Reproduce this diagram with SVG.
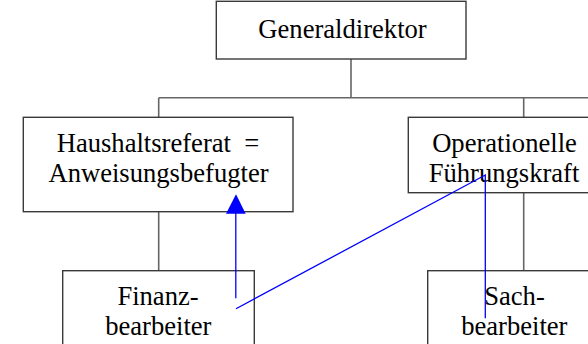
<svg xmlns="http://www.w3.org/2000/svg" width="588" height="344" viewBox="0 0 588 344">
<style>
.box{fill:#fff;stroke:#3a3a3a;stroke-width:1.4}
.t{font-family:"Liberation Serif","Times New Roman",serif;font-size:26.6px;fill:#000;text-anchor:middle}
.c{fill:none;stroke:#666;stroke-width:1.6}
.b{fill:none;stroke:#0000ff;stroke-width:1.3}
</style>
<rect width="588" height="344" fill="#fff"/>
<g id="connectors">
<path class="c" d="M351 59V97.7M158.7 97.7H588M158.7 97.7V117.3M523.7 97.7V117.3M158.7 211.7V270.7M523.7 192.7V270.7"/>
</g>
<g id="generaldirektor">
<rect class="box" x="216.3" y="1.3" width="249.7" height="57.7"/>
<text class="t" x="342.5" y="37.7">Generaldirektor</text>
</g>
<g id="haushaltsreferat">
<rect class="box" x="23.3" y="117.3" width="269.7" height="94.4"/>
<text class="t" x="158" y="151.7">Haushaltsreferat&#160; =</text>
<text class="t" x="158.5" y="181.7">Anweisungsbefugter</text>
</g>
<g id="operationelle">
<rect class="box" x="408.3" y="117.3" width="192" height="75.4"/>
<text class="t" x="504.5" y="151.7">Operationelle</text>
<text class="t" x="504" y="181.7">Führungskraft</text>
</g>
<g id="finanz">
<rect class="box" x="62.7" y="270.7" width="191.6" height="90"/>
<text class="t" x="158" y="305">Finanz-</text>
<text class="t" x="158.3" y="335">bearbeiter</text>
</g>
<g id="sach">
<rect class="box" x="427.7" y="270.7" width="172.6" height="90"/>
<text class="t" x="514.5" y="305">Sach-</text>
<text class="t" x="514.3" y="335">bearbeiter</text>
</g>
<g id="blue-connectors">
<path class="b" d="M235.8 298.3V212"/>
<polygon points="236,194.3 226,213.7 245.7,213.7" fill="#0000ff"/>
<path class="b" d="M236 308.7L485.3 175V318.3"/>
</g>
</svg>
